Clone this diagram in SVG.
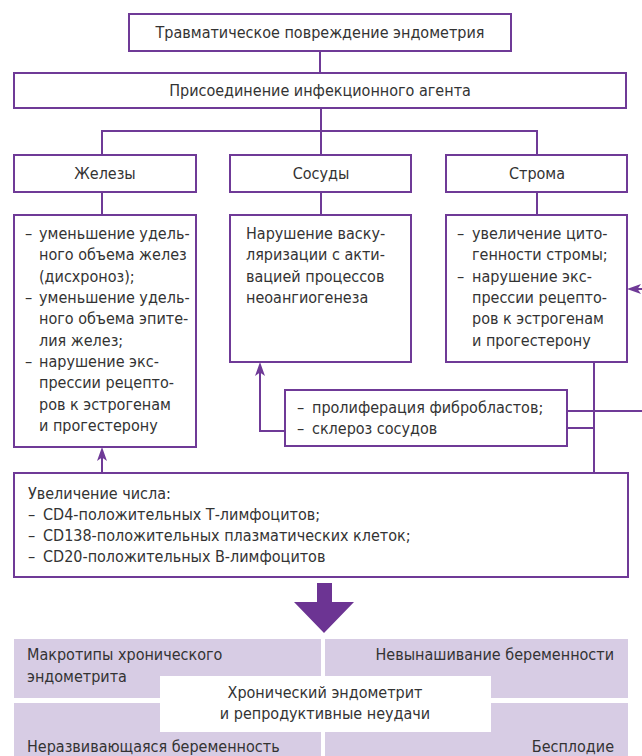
<svg xmlns="http://www.w3.org/2000/svg" width="642" height="756" viewBox="0 0 642 756">
<defs>
<style>
.box{fill:#fff;stroke:#6f3a97;stroke-width:2}
.cell{fill:#d7cce4}
.ln{fill:none;stroke:#6f3a97;stroke-width:2}
text{font-family:"DejaVu Sans Condensed","DejaVu Sans",sans-serif;font-stretch:condensed;font-size:16px;fill:#333}
.c{text-anchor:middle}
.e{text-anchor:end}
</style>
<marker id="ah" viewBox="0 0 14 10" refX="9" refY="5" markerWidth="14" markerHeight="10" markerUnits="userSpaceOnUse" orient="auto">
<path d="M0,0 L14,5 L0,10 L3.5,5 Z" fill="#6f3a97"/>
</marker>
</defs>
<rect width="642" height="756" fill="#fff"/>
<g id="connectors">
<path class="ln" d="M320,51 V73"/>
<path class="ln" d="M321,108 V155 M102,155 V131 H537 V155"/>
<path class="ln" d="M102,192 V215 M321,192 V215 M537,192 V215"/>
<path class="ln" d="M285,431 H260 V367" marker-end="url(#ah)"/>
<path class="ln" d="M567,411 H642 M567,428 H594 M594,362 V473"/>
<path class="ln" d="M642,289 H632" marker-end="url(#ah)"/>
<path class="ln" d="M102,473 V452" marker-end="url(#ah)"/>
<path d="M317,583 H332 V602 H354 L324,633 L294,602 H317 Z" fill="#6c3493"/>
</g>
<g id="n-trauma"><rect class="box" x="129" y="14" width="382" height="37"/><text class="c" x="320" y="38">Травматическое повреждение эндометрия</text></g>
<g id="n-infect"><rect class="box" x="14" y="73" width="612" height="35"/><text class="c" x="320" y="96">Присоединение инфекционного агента</text></g>
<g id="n-glands"><rect class="box" x="14" y="155" width="182" height="37"/><text class="c" x="105" y="179">Железы</text></g>
<g id="n-vessels"><rect class="box" x="230" y="155" width="181" height="37"/><text class="c" x="321" y="179">Сосуды</text></g>
<g id="n-stroma"><rect class="box" x="446" y="155" width="181" height="37"/><text class="c" x="537" y="179">Строма</text></g>
<g id="n-glands-d"><rect class="box" x="14" y="215" width="182" height="232"/>
<text x="25" y="239">–</text><text x="39" y="239">уменьшение удель-</text>
<text x="39" y="260">ного объема желез</text>
<text x="39" y="282">(дисхроноз);</text>
<text x="25" y="303">–</text><text x="39" y="303">уменьшение удель-</text>
<text x="39" y="324">ного объема эпите-</text>
<text x="39" y="346">лия желез;</text>
<text x="25" y="367">–</text><text x="39" y="367">нарушение экс-</text>
<text x="39" y="388">прессии рецепто-</text>
<text x="39" y="410">ров к эстрогенам</text>
<text x="39" y="431">и прогестерону</text>
</g>
<g id="n-vessels-d"><rect class="box" x="230" y="215" width="181" height="147"/>
<text x="246" y="239">Нарушение васку-</text>
<text x="246" y="260">ляризации с акти-</text>
<text x="246" y="282">вацией процессов</text>
<text x="246" y="303">неоангиогенеза</text>
</g>
<g id="n-stroma-d"><rect class="box" x="446" y="215" width="181" height="147"/>
<text x="457" y="239">–</text><text x="472" y="239">увеличение цито-</text>
<text x="472" y="260">генности стромы;</text>
<text x="457" y="282">–</text><text x="472" y="282">нарушение экс-</text>
<text x="472" y="303">прессии рецепто-</text>
<text x="472" y="324">ров к эстрогенам</text>
<text x="472" y="346">и прогестерону</text>
</g>
<g id="n-fibro"><rect class="box" x="285" y="390" width="282" height="56"/>
<text x="297" y="413">–</text><text x="312" y="413">пролиферация фибробластов;</text>
<text x="297" y="434">–</text><text x="312" y="434">склероз сосудов</text>
</g>
<g id="n-cd"><rect class="box" x="14" y="473" width="614" height="104"/>
<text x="28" y="499">Увеличение числа:</text>
<text x="28" y="520">–</text><text x="43" y="520">CD4-положительных Т-лимфоцитов;</text>
<text x="28" y="541">–</text><text x="43" y="541">CD138-положительных плазматических клеток;</text>
<text x="28" y="562">–</text><text x="43" y="562">CD20-положительных В-лимфоцитов</text>
</g>
<g id="n-outcomes">
<rect class="cell" x="14" y="639" width="307" height="59"/>
<rect class="cell" x="325" y="639" width="303" height="59"/>
<rect class="cell" x="14" y="703" width="307" height="53"/>
<rect class="cell" x="325" y="703" width="303" height="53"/>
<text x="27" y="660">Макротипы хронического</text>
<text x="27" y="682">эндометрита</text>
<text class="e" x="614" y="660">Невынашивание беременности</text>
<text x="27" y="752">Неразвивающаяся беременность</text>
<text class="e" x="614" y="752">Бесплодие</text>
</g>
<g id="n-center"><rect x="160" y="676" width="331" height="56" fill="#fff"/>
<text class="c" x="325" y="698">Хронический эндометрит</text>
<text class="c" x="325" y="719">и репродуктивные неудачи</text>
</g>
</svg>
